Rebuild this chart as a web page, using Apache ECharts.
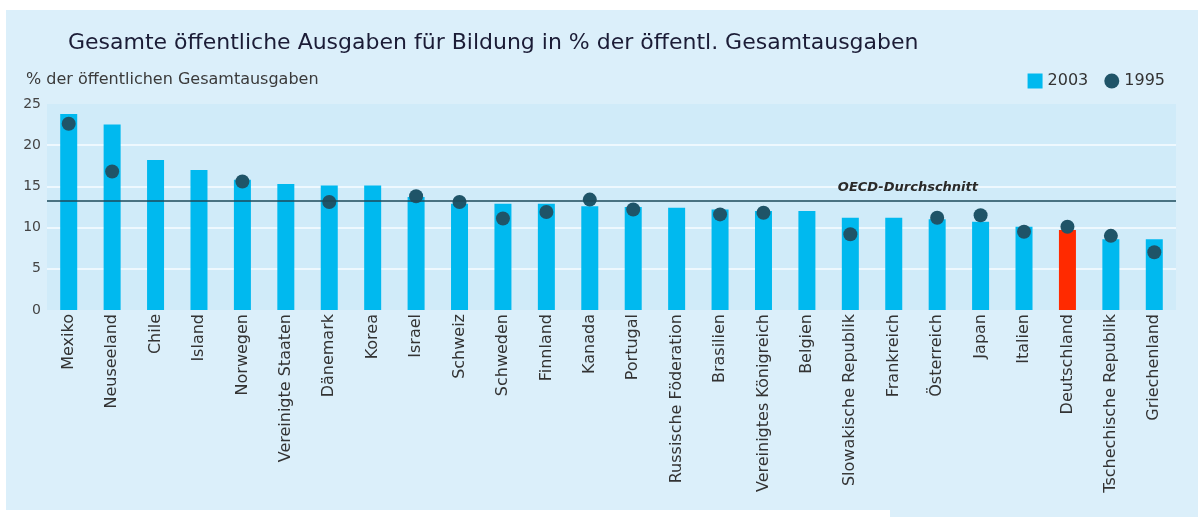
<!DOCTYPE html>
<html lang="de">
<head>
    <meta charset="UTF-8">
    <title>Öffentliche Ausgaben für Bildung</title>
    <script src="https://cdn.jsdelivr.net/npm/echarts@6.0.0/dist/echarts.min.js"></script>
    <style>
        body {
            margin: 0;
            padding: 0;
            background: #ffffff;
        }
        .panel {
            position: absolute;
            left: 6px;
            top: 10px;
            width: 1192px;
            height: 507px;
            background: #dbeffa;
        }
        .notch {
            position: absolute;
            left: 0;
            top: 510px;
            width: 890px;
            height: 7px;
            background: #ffffff;
        }
        #main {
            position: absolute;
            left: 0;
            top: 0;
            width: 1198px;
            height: 517px;
        }
    </style>
</head>
<body>
    <div class="panel"></div>
    <div class="notch"></div>
    <div id="main"></div>

    <script>
        // Länder, sortiert nach Anteil 2003
        const laender = [
            'Mexiko', 'Neuseeland', 'Chile', 'Island', 'Norwegen', 'Vereinigte Staaten',
            'Dänemark', 'Korea', 'Israel', 'Schweiz', 'Schweden', 'Finnland', 'Kanada',
            'Portugal', 'Russische Föderation', 'Brasilien', 'Vereinigtes Königreich',
            'Belgien', 'Slowakische Republik', 'Frankreich', 'Österreich', 'Japan',
            'Italien', 'Deutschland', 'Tschechische Republik', 'Griechenland'
        ];

        const werte2003 = [
            23.8, 22.5, 18.2, 17.0, 15.8, 15.3,
            15.1, 15.1, 13.7, 12.9, 12.9, 12.9, 12.6,
            12.5, 12.4, 12.2, 12.0,
            12.0, 11.2, 11.2, 11.0, 10.7,
            10.1, 9.7, 8.6, 8.6
        ];

        // null = kein Wert für 1995
        const werte1995 = [
            22.6, 16.8, null, null, 15.6, null,
            13.1, null, 13.8, 13.1, 11.1, 11.9, 13.4,
            12.2, null, 11.6, 11.8,
            null, 9.2, null, 11.2, 11.5,
            9.5, 10.1, 9.0, 7.0
        ];

        const oecdDurchschnitt = 13.3;
        const yTicks = [0, 5, 10, 15, 20, 25];

        const hervorgehoben = 'Deutschland';

        var chartDom = document.getElementById('main');
        var myChart = echarts.init(chartDom);

        var schrift = 'DejaVu Sans';

        var option = {
            animation: false,
            backgroundColor: 'transparent',
            title: [
                {
                    text: 'Gesamte öffentliche Ausgaben für Bildung in % der öffentl. Gesamtausgaben',
                    left: 63,
                    top: 27,
                    textStyle: {
                        fontFamily: schrift,
                        fontSize: 22,
                        fontWeight: 'normal',
                        color: '#1b1c36'
                    }
                },
                {
                    text: '% der öffentlichen Gesamtausgaben',
                    left: 21,
                    top: 67,
                    textStyle: {
                        fontFamily: schrift,
                        fontSize: 16,
                        fontWeight: 'normal',
                        color: '#3a3a3a'
                    }
                }
            ],
            legend: {
                data: [
                    { name: '2003', icon: 'rect' },
                    { name: '1995', icon: 'circle' }
                ],
                right: 28,
                top: 68,
                itemWidth: 15,
                itemHeight: 15,
                itemGap: 16,
                textStyle: {
                    fontFamily: schrift,
                    fontSize: 16,
                    color: '#333'
                }
            },
            grid: {
                left: 47,
                right: 22,
                top: 104,
                bottom: 207,
                show: true,
                backgroundColor: '#d0ebf9',
                borderWidth: 0
            },
            xAxis: {
                type: 'category',
                data: laender,
                axisLine: { show: false },
                axisTick: { show: false },
                axisLabel: {
                    rotate: 90,
                    interval: 0,
                    margin: 4,
                    fontFamily: schrift,
                    fontSize: 16,
                    color: '#333'
                }
            },
            yAxis: {
                type: 'value',
                min: yTicks[0],
                max: yTicks[yTicks.length - 1],
                interval: 5,
                axisLine: { show: false },
                axisTick: { show: false },
                axisLabel: {
                    margin: 6,
                    fontFamily: schrift,
                    fontSize: 14,
                    color: '#444'
                },
                splitLine: {
                    show: true,
                    lineStyle: {
                        color: ['transparent', '#eef8fe', '#eef8fe', '#eef8fe', '#eef8fe', 'transparent'],
                        width: 2
                    }
                }
            },
            series: [
                {
                    name: '2003',
                    type: 'bar',
                    barWidth: 17,
                    itemStyle: { color: '#00b9ef' },
                    emphasis: { disabled: true },
                    data: werte2003.map(function (v, i) {
                        if (laender[i] === hervorgehoben) {
                            return { value: v, itemStyle: { color: '#ff2a00' } };
                        }
                        return v;
                    }),
                    markLine: {
                        silent: true,
                        symbol: 'none',
                        lineStyle: {
                            color: '#1c4a5a',
                            width: 1.5,
                            type: 'solid'
                        },
                        label: {
                            position: 'insideEndTop',
                            distance: [198, 6],
                            formatter: 'OECD-Durchschnitt',
                            fontFamily: schrift,
                            fontSize: 13,
                            fontWeight: 'bold',
                            fontStyle: 'italic',
                            color: '#2a2a2a'
                        },
                        data: [{ yAxis: oecdDurchschnitt }]
                    }
                },
                {
                    name: '1995',
                    type: 'scatter',
                    symbol: 'circle',
                    symbolSize: 14,
                    itemStyle: { color: '#1f5468', opacity: 1 },
                    emphasis: { disabled: true },
                    z: 3,
                    data: werte1995
                }
            ]
        };

        option && myChart.setOption(option);
    </script>
</body>
</html>
